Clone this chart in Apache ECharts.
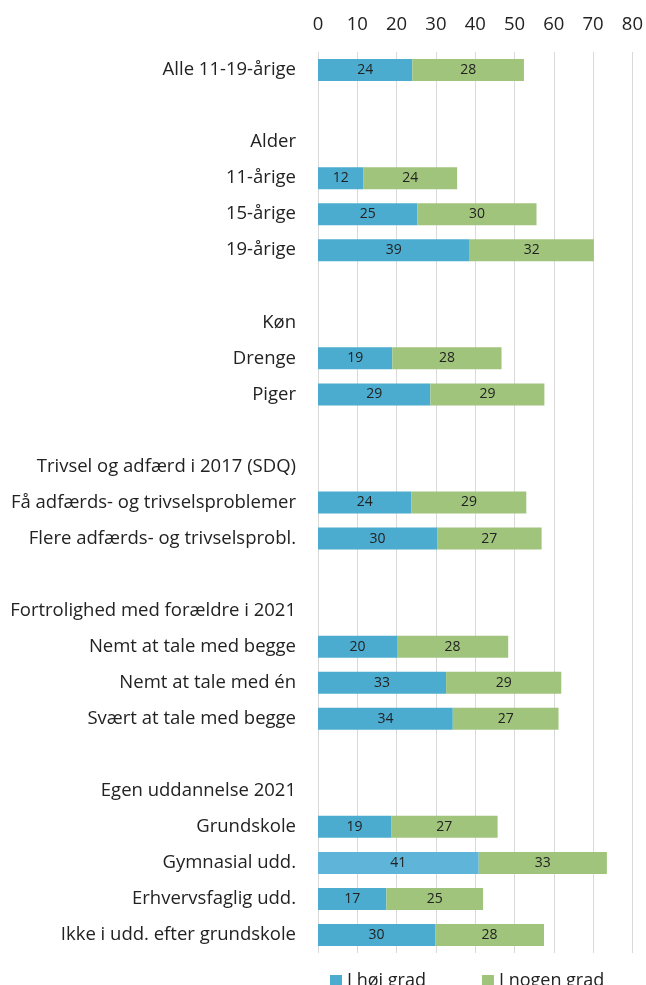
<!DOCTYPE html>
<html>
<head>
<meta charset="utf-8">
<script src="https://cdn.jsdelivr.net/npm/echarts@6/dist/echarts.min.js"></script>
<style>
html,body{margin:0;padding:0;background:#fff;}
#chart{width:646px;height:985px;}
</style>
</head>
<body>
<div id="chart"></div>
<script>
// Categories (top to bottom); blank strings are spacer rows, headers have no bars
const categories = [
  'Alle 11-19-årige', ' ', 'Alder', '11-årige', '15-årige', '19-årige', '  ',
  'Køn', 'Drenge', 'Piger', '   ',
  'Trivsel og adfærd i 2017 (SDQ)', 'Få adfærds- og trivselsproblemer', 'Flere adfærds- og trivselsprobl.', '    ',
  'Fortrolighed med forældre i 2021', 'Nemt at tale med begge', 'Nemt at tale med én', 'Svært at tale med begge', '     ',
  'Egen uddannelse 2021', 'Grundskole', 'Gymnasial udd.', 'Erhvervsfaglig udd.', 'Ikke i udd. efter grundskole'
];
const seriesNames = ['I høj grad', 'I nogen grad'];
const hojGrad = [24.0, null, null, 11.6, 25.3, 38.6, null,
  null, 18.9, 28.6, null,
  null, 23.8, 30.3, null,
  null, 20.1, 32.6, 34.3, null,
  null, 18.6, 40.9, 17.4, 29.8];
const nogenGrad = [28.4, null, null, 23.8, 30.3, 31.6, null,
  null, 27.8, 29.0, null,
  null, 29.2, 26.6, null,
  null, 28.3, 29.3, 26.9, null,
  null, 27.1, 32.6, 24.6, 27.7];
const xTicks = [0, 10, 20, 30, 40, 50, 60, 70, 80];

const FONT = '"Open Sans"';
const BLUE = '#4bacd0';
const BLUE_LIGHT = '#5eb5d9';
const GREEN = '#a0c47c';

const chart = echarts.init(document.getElementById('chart'), null, {renderer: 'canvas'});
chart.setOption({
  animation: false,
  textStyle: {fontFamily: FONT},
  grid: {left: 318, right: 12, top: 52, bottom: 32, containLabel: false},
  legend: {
    data: [
      {name: seriesNames[0], itemStyle: {color: BLUE}},
      {name: seriesNames[1], itemStyle: {color: GREEN}}
    ],
    left: 325, top: 967,
    itemWidth: 12, itemHeight: 12, itemGap: 56,
    icon: 'rect',
    textStyle: {fontFamily: FONT, fontSize: 18, color: '#222'}
  },
  xAxis: {
    type: 'value', position: 'top',
    min: xTicks[0], max: xTicks[xTicks.length - 1], interval: xTicks[1] - xTicks[0],
    axisLine: {show: false}, axisTick: {show: false},
    axisLabel: {fontFamily: FONT, fontSize: 18.5, color: '#222', margin: 18},
    splitLine: {show: true, lineStyle: {color: '#d9d9d9', width: 1}}
  },
  yAxis: {
    type: 'category', inverse: true, data: categories,
    axisLine: {show: false}, axisTick: {show: false},
    axisLabel: {fontFamily: FONT, fontSize: 18.5, color: '#222', margin: 22}
  },
  series: [
    {
      name: seriesNames[0], type: 'bar', stack: 'all', barWidth: 22,
      data: hojGrad,
      itemStyle: {color: p => p.name === 'Gymnasial udd.' ? BLUE_LIGHT : BLUE},
      label: {show: true, position: 'inside', fontFamily: FONT, fontSize: 14, color: '#222',
        formatter: p => Math.round(p.value)}
    },
    {
      name: seriesNames[1], type: 'bar', stack: 'all', barWidth: 22,
      data: nogenGrad,
      itemStyle: {color: GREEN},
      label: {show: true, position: 'inside', fontFamily: FONT, fontSize: 14, color: '#222',
        formatter: p => Math.round(p.value)}
    }
  ]
});
</script>
</body>
</html>
